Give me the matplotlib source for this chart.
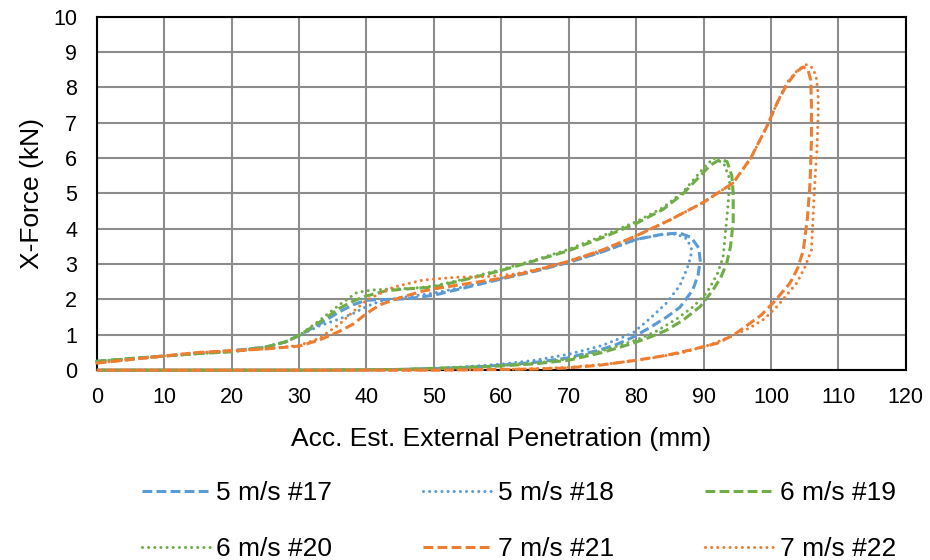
import matplotlib
matplotlib.use("Agg")
import matplotlib.pyplot as plt

plt.rcParams["font.family"] = ["Liberation Sans", "DejaVu Sans"]

blue = "#5B9BD5"
green = "#70AD47"
orange = "#ED7D31"

# 5 m/s #17 (dashed)
x17 = [0, 5, 10, 15, 20, 25, 28, 30, 33, 36, 38, 40, 43, 46, 50, 55, 60, 65, 70, 75, 80, 84, 86.5, 88.2, 89.3, 89.5,
       89.2, 88.4, 86.5, 84.5, 82, 79.5, 77, 74.6, 69.7, 65, 60, 55, 50, 45, 40, 30, 20, 10, 0]
y17 = [0.25, 0.32, 0.4, 0.47, 0.55, 0.65, 0.8, 0.98, 1.3, 1.65, 1.85, 1.98, 2.0, 2.02, 2.12, 2.35, 2.58, 2.8, 3.05, 3.35, 3.7, 3.85, 3.88, 3.75, 3.45, 3.1,
       2.7, 2.27, 1.78, 1.5, 1.2, 0.93, 0.72, 0.57, 0.34, 0.22, 0.14, 0.08, 0.04, 0.02, 0.01, 0, 0, 0, 0]

# 5 m/s #18 (dotted)
x18 = [0, 5, 10, 15, 20, 25, 28, 30, 33, 36, 38, 40, 42, 45, 50, 55, 60, 65, 70, 75, 80, 84, 86, 87.5, 88.2, 88.1,
       87.6, 86.5, 84.5, 82, 79.5, 75, 70, 65, 60, 55, 50, 45, 40, 30, 20, 10, 0]
y18 = [0.25, 0.32, 0.4, 0.47, 0.55, 0.65, 0.8, 0.98, 1.25, 1.45, 1.6, 1.8, 1.95, 2.05, 2.18, 2.38, 2.6, 2.82, 3.05, 3.35, 3.7, 3.84, 3.85, 3.72, 3.45, 3.2,
       2.9, 2.4, 1.9, 1.45, 1.05, 0.7, 0.45, 0.28, 0.17, 0.1, 0.05, 0.02, 0.01, 0, 0, 0, 0]

# 6 m/s #19 (dashed)
x19 = [0, 5, 10, 15, 20, 25, 28, 30, 33, 36, 38, 40, 43, 46, 50, 55, 60, 65, 70, 75, 80, 84, 87, 89, 91, 92.5, 93.5, 94.2,
       94.4, 94.4, 94, 93.4, 92.5, 91.4, 89.5, 87, 84.5, 82, 79.5, 75, 70, 65, 60, 55, 50, 45, 40, 30, 20, 10, 0]
y19 = [0.25, 0.33, 0.4, 0.47, 0.52, 0.65, 0.8, 0.98, 1.35, 1.75, 1.95, 2.1, 2.25, 2.3, 2.35, 2.58, 2.82, 3.1, 3.38, 3.75, 4.15, 4.55, 5.0, 5.4, 5.8, 5.97, 5.9, 5.5,
       5.0, 4.2, 3.5, 3.0, 2.6, 2.27, 1.8, 1.42, 1.13, 0.93, 0.76, 0.5, 0.28, 0.18, 0.12, 0.08, 0.05, 0.02, 0.01, 0, 0, 0, 0]

# 6 m/s #20 (dotted)
x20 = [0, 5, 10, 15, 20, 25, 28, 30, 33, 36, 38.6, 41, 44, 47, 50, 55, 60, 65, 70, 75, 80, 84, 87, 90, 91.5, 93, 93.9,
       93.6, 93.2, 92.9, 92, 90.5, 88.5, 86, 83, 80, 75, 70, 65, 60, 55, 50, 45, 40, 30, 20, 10, 0]
y20 = [0.25, 0.33, 0.4, 0.47, 0.52, 0.65, 0.8, 0.98, 1.4, 1.85, 2.2, 2.27, 2.3, 2.32, 2.38, 2.6, 2.85, 3.12, 3.42, 3.8, 4.2, 4.6, 5.05, 5.72, 6.0, 5.85, 5.4,
       4.6, 3.8, 3.2, 2.7, 2.2, 1.8, 1.45, 1.1, 0.85, 0.55, 0.32, 0.2, 0.13, 0.08, 0.05, 0.02, 0.01, 0, 0, 0, 0]

# 7 m/s #21 (dashed)
x21 = [0, 5, 10, 15, 20, 25, 30, 33, 36, 38, 40, 42, 45, 48, 50, 55, 60, 65, 70, 75, 80, 85, 90, 94.4, 97, 99.4, 101,
       102.4, 103.8, 104.8, 105.5, 105.9, 106, 106, 105.8, 105.4, 104.8, 104, 102.8, 100.3, 98.5, 96.9, 94.5, 92,
       88, 84.5, 80, 74.6, 69.7, 65, 60, 50, 40, 30, 20, 10, 0]
y21 = [0.2, 0.3, 0.4, 0.5, 0.55, 0.6, 0.68, 0.85, 1.1, 1.3, 1.6, 1.85, 2.05, 2.22, 2.3, 2.45, 2.6, 2.82, 3.08, 3.4, 3.8, 4.25, 4.75, 5.3, 6.0, 6.9, 7.6,
       8.1, 8.45, 8.58, 8.5, 8.2, 7.5, 6.5, 5.3, 4.3, 3.4, 2.9, 2.46, 1.9, 1.55, 1.33, 1.0, 0.76,
       0.57, 0.42, 0.28, 0.14, 0.06, 0.03, 0.02, 0, 0, 0, 0, 0, 0]

# 7 m/s #22 (dotted)
x22 = [0, 5, 10, 15, 20, 25, 30, 33, 36, 38, 40, 44, 48.4, 53.4, 58, 62, 66, 70, 75, 80, 85, 90, 94.4, 97, 99.4, 101,
       102.4, 104, 105.3, 106.2, 106.7, 107, 107, 106.8, 106.5, 106, 105, 103.8, 100.9, 99, 96.9, 94, 91, 87,
       82, 76, 70, 65, 60, 50, 40, 30, 20, 10, 0]
y22 = [0.2, 0.3, 0.4, 0.5, 0.55, 0.6, 0.7, 0.9, 1.3, 1.65, 1.98, 2.35, 2.55, 2.63, 2.65, 2.72, 2.88, 3.08, 3.4, 3.8, 4.25, 4.75, 5.3, 6.0, 6.9, 7.6,
       8.15, 8.5, 8.65, 8.55, 8.3, 7.8, 7.2, 6.2, 5.3, 3.4, 2.9, 2.46, 1.8, 1.45, 1.2, 0.95, 0.72, 0.5,
       0.33, 0.18, 0.08, 0.04, 0.02, 0, 0, 0, 0, 0, 0]

x_ticks = list(range(0, 121, 10))
y_ticks = list(range(0, 11))

fig = plt.figure(figsize=(9.3, 5.6), dpi=100)
ax = fig.add_axes([0.104, 0.339, 0.870, 0.631])

dash = (3.2, 1.4)
dot = (0.01, 2.0)

series = [
    (x17, y17, blue, dash, "5 m/s #17"),
    (x20, y20, green, dot, "6 m/s #20"),
    (x18, y18, blue, dot, "5 m/s #18"),
    (x21, y21, orange, dash, "7 m/s #21"),
    (x19, y19, green, dash, "6 m/s #19"),
    (x22, y22, orange, dot, "7 m/s #22"),
]
draw_order = [0, 2, 4, 1, 3, 5]
lines = {}
for i in draw_order:
    x, y, c, d, lab = series[i]
    ln, = ax.plot(x, y, color=c, lw=2.2, label=lab, zorder=3, clip_on=False)
    ln.set_dashes(d)
    if d is dot:
        ln.set_dash_capstyle("round")
    lines[i] = ln

ax.set_xlim(0, 120)
ax.set_ylim(0, 10)
ax.set_xticks(x_ticks)
ax.set_yticks(y_ticks)
ax.grid(True, color="#8c8c8c", lw=1.5)
ax.set_axisbelow(True)
for s in ax.spines.values():
    s.set_color("black")
    s.set_linewidth(1.5)
ax.tick_params(length=0, labelsize=15.5)
ax.tick_params(axis="x", pad=12)
ax.tick_params(axis="y", pad=14)
ax.set_xlabel("Acc. Est. External Penetration (mm)", fontsize=19, labelpad=14)
ax.set_ylabel("X-Force (kN)", fontsize=19, labelpad=7)

handles = [lines[i] for i in range(6)]
fig.legend(handles=handles, labels=[s[4] for s in series], ncol=3, loc="lower center",
           bbox_to_anchor=(0.558, -0.044), frameon=False, fontsize=19,
           handlelength=2.6, handletextpad=0.23, columnspacing=3.45, labelspacing=1.2)

fig.savefig("out.png", dpi=100)
